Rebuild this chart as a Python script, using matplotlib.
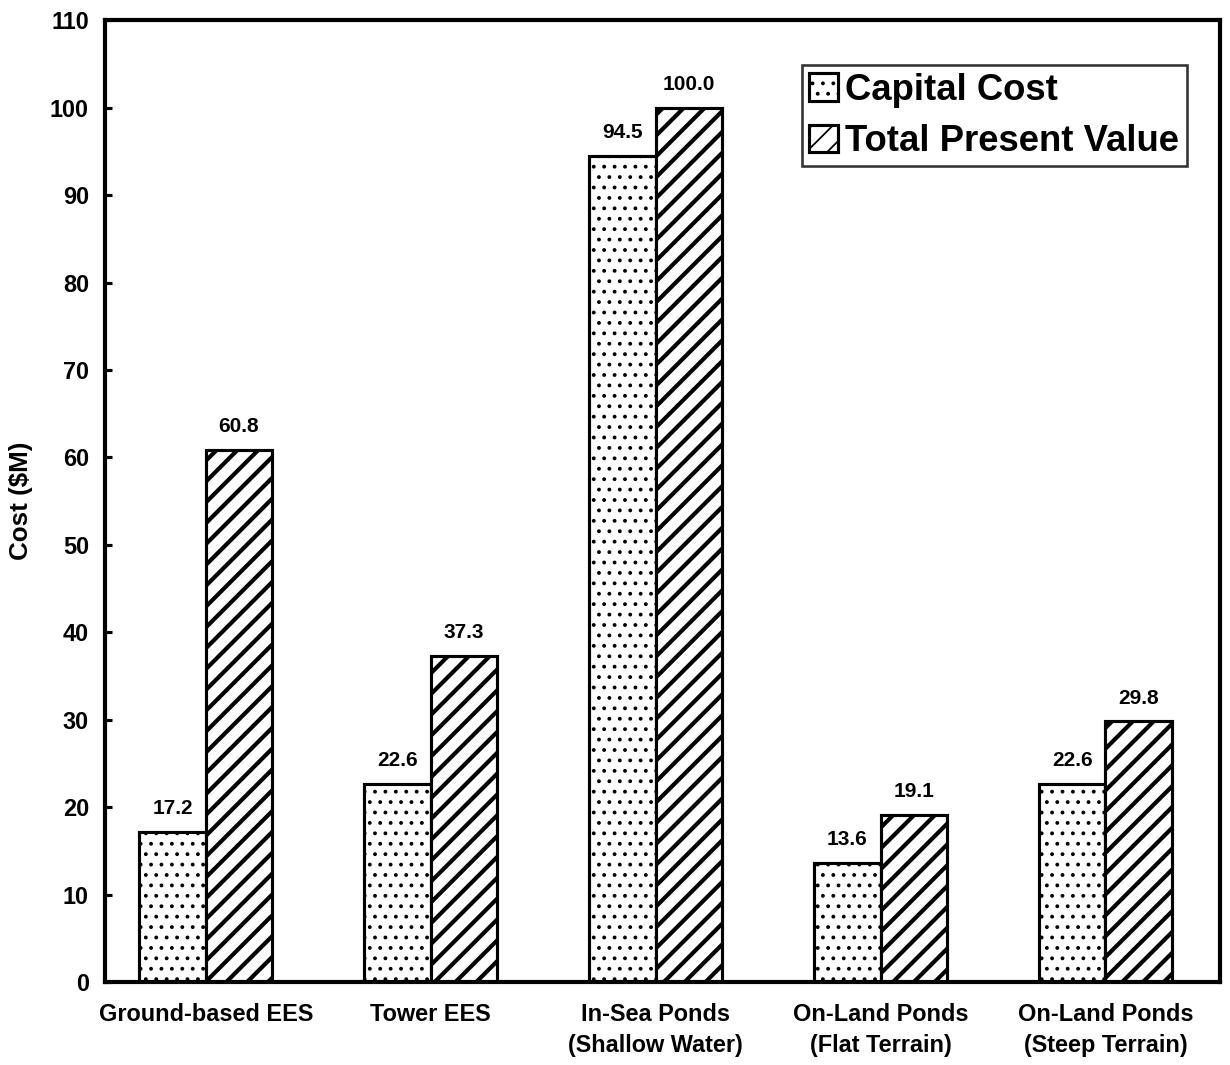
import numpy as np
import matplotlib.pyplot as plt

categories = ["Ground-based EES", "Tower EES", "In-Sea Ponds\n(Shallow Water)",
              "On-Land Ponds\n(Flat Terrain)", "On-Land Ponds\n(Steep Terrain)"]
capital_cost = [17.2, 22.6, 94.5, 13.6, 22.6]
total_present_value = [60.8, 37.3, 100.0, 19.1, 29.8]

plt.rcParams['font.family'] = ['Liberation Sans', 'DejaVu Sans']
plt.rcParams['font.weight'] = 'bold'

fig = plt.figure(figsize=(9.84, 8.52), dpi=125)
ax = fig.add_axes([0.085, 0.078, 0.907, 0.903])

x = np.arange(len(categories))
w = 0.295
with plt.rc_context({'hatch.linewidth': 1.0}):
    b1 = ax.bar(x - w / 2, capital_cost, w, color='white', edgecolor='black',
                linewidth=1.8, hatch='..', label='Capital Cost')
with plt.rc_context({'hatch.linewidth': 2.4}):
    b2 = ax.bar(x + w / 2, total_present_value, w, color='white', edgecolor='black',
                linewidth=1.8, hatch='//', label='Total Present Value')

for bars, vals in ((b1, capital_cost), (b2, total_present_value)):
    for r, v in zip(bars, vals):
        ax.annotate(f"{v:.1f}", (r.get_x() + r.get_width() / 2, v),
                    xytext=(0, 8), textcoords='offset points',
                    ha='center', va='bottom', fontsize=12, fontweight='bold')

ax.set_xlim(-0.45, 4.51)
ax.set_ylim(0, 110)
ax.set_yticks(range(0, 111, 10))
ax.set_xticks(x)
ax.set_xticklabels(categories, fontsize=13.5, fontweight='bold', linespacing=1.45)
ax.tick_params(axis='x', length=0, pad=12)
ax.tick_params(axis='y', direction='in', length=4, width=1.8, labelsize=13.5, pad=9)
for s in ax.spines.values():
    s.set_linewidth(2.4)
ax.set_ylabel("Cost ($M)", fontsize=15, fontweight='bold', labelpad=10)

leg = ax.legend(loc='upper right', bbox_to_anchor=(0.970, 0.953), fontsize=21,
                frameon=True, fancybox=False, edgecolor='black',
                handlelength=0.8, handleheight=0.8, handletextpad=0.2,
                borderpad=0.2, labelspacing=0.45, borderaxespad=0)
leg.get_frame().set_linewidth(1.5)
for t in leg.get_texts():
    t.set_fontweight('bold')

fig.savefig("out.png", dpi=125)
